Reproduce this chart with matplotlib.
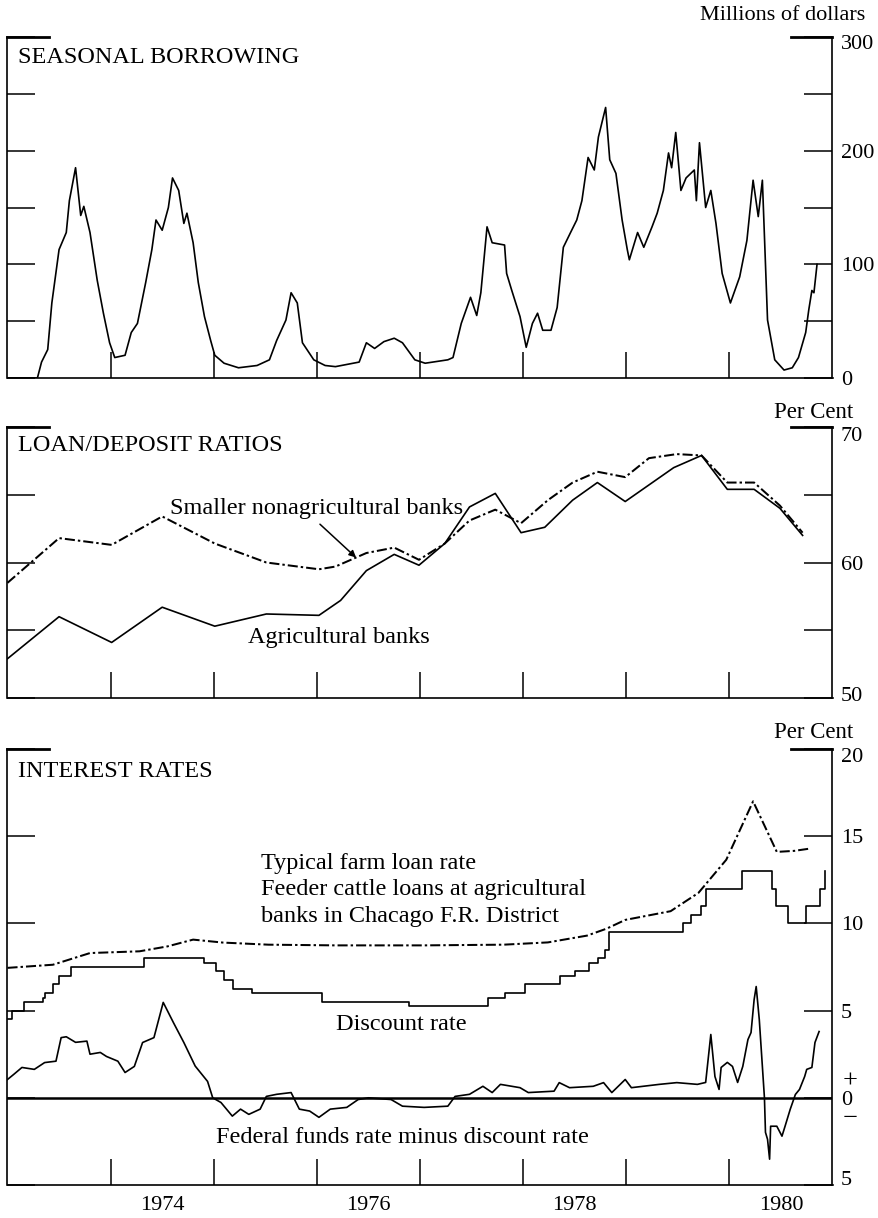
import matplotlib
matplotlib.use("Agg")
import matplotlib.pyplot as plt
import matplotlib.transforms as mtransforms
import numpy as np

plt.rcParams['font.family'] = ['Liberation Serif', 'DejaVu Serif']

# ---------------- Seasonal borrowing (millions of dollars) ----------------
sb_year = [1973.00, 1973.29, 1973.33, 1973.39, 1973.43, 1973.50, 1973.57, 1973.60, 1973.66,
           1973.71, 1973.74, 1973.80, 1973.87, 1973.93, 1973.99, 1974.04, 1974.14, 1974.20,
           1974.26, 1974.34, 1974.40, 1974.44, 1974.50, 1974.56, 1974.60, 1974.66, 1974.71,
           1974.74, 1974.80, 1974.85, 1974.91, 1974.97, 1975.01, 1975.10, 1975.24, 1975.42,
           1975.54, 1975.61, 1975.70, 1975.75, 1975.81, 1975.86, 1975.97, 1976.08, 1976.18,
           1976.41, 1976.48, 1976.56, 1976.65, 1976.75, 1976.83, 1976.95, 1977.05, 1977.27,
           1977.32, 1977.40, 1977.49, 1977.55, 1977.59, 1977.65, 1977.70, 1977.82, 1977.84,
           1977.89, 1977.97, 1978.03, 1978.09, 1978.14, 1978.19, 1978.27, 1978.33, 1978.39,
           1978.46, 1978.52, 1978.57, 1978.63, 1978.69, 1978.73, 1978.80, 1978.84, 1978.90,
           1978.96, 1979.01, 1979.03, 1979.11, 1979.17, 1979.25, 1979.30, 1979.36, 1979.41,
           1979.44, 1979.48, 1979.53, 1979.58, 1979.66, 1979.68, 1979.71, 1979.77, 1979.82,
           1979.87, 1979.93, 1980.01, 1980.10, 1980.17, 1980.23, 1980.28, 1980.32, 1980.37,
           1980.44, 1980.53, 1980.61, 1980.67, 1980.74, 1980.77, 1980.80, 1980.82, 1980.85]
sb_val = [0, 0, 14, 25, 66, 113, 128, 156, 185,
          143, 151, 128, 86, 57, 31, 18, 20, 40,
          48, 84, 113, 139, 130, 150, 176, 165, 136,
          145, 119, 84, 54, 33, 20, 13, 9, 11,
          16, 33, 51, 75, 66, 31, 16, 11, 10,
          14, 31, 26, 32, 35, 31, 16, 13, 16,
          18, 48, 71, 55, 75, 133, 119, 117, 92,
          77, 54, 27, 48, 57, 42, 42, 62, 115,
          128, 139, 156, 194, 183, 212, 238, 192, 180,
          139, 113, 104, 128, 115, 133, 145, 165, 198,
          185, 216, 165, 176, 183, 156, 207, 150, 165,
          136, 92, 66, 89, 121, 174, 142, 174, 51,
          16, 7, 9, 18, 40, 60, 77, 75, 100]

# ---------------- Loan/deposit ratios (per cent) ----------------
ag_year = [1973.00, 1973.50, 1974.01, 1974.50, 1975.01, 1975.51, 1976.02, 1976.23, 1976.48,
           1976.75, 1976.99, 1977.24, 1977.48, 1977.73, 1977.98, 1978.21, 1978.48, 1978.72,
           1978.99, 1979.46, 1979.73, 1979.98, 1980.24, 1980.49, 1980.71]
ag_ratio = [52.9, 56.0, 54.1, 56.7, 55.3, 56.2, 56.1, 57.2, 59.4,
            60.6, 59.8, 61.4, 64.1, 65.1, 62.2, 62.6, 64.6, 65.9,
            64.5, 67.0, 67.9, 65.4, 65.4, 64.0, 62.0]

nonag_year = [1973.00, 1973.50, 1974.01, 1974.50, 1975.01, 1975.51, 1976.02, 1976.18, 1976.48,
              1976.75, 1976.99, 1977.24, 1977.48, 1977.73, 1977.98, 1978.24, 1978.48, 1978.72,
              1978.99, 1979.22, 1979.49, 1979.73, 1979.98, 1980.24, 1980.49, 1980.71]
nonag_ratio = [58.5, 61.8, 61.3, 63.4, 61.4, 60.0, 59.5, 59.7, 60.7,
               61.1, 60.2, 61.4, 63.1, 63.9, 62.9, 64.6, 65.9, 66.7,
               66.3, 67.7, 68.0, 67.9, 65.9, 65.9, 64.2, 62.2]

# ---------------- Interest rates (per cent) ----------------
farm_year = [1973.00, 1973.44, 1973.80, 1974.28, 1974.55, 1974.80, 1975.09, 1975.53, 1976.18,
             1977.04, 1977.81, 1978.24, 1978.62, 1978.81, 1978.99, 1979.43, 1979.70, 1979.97,
             1980.23, 1980.46, 1980.63, 1980.77]
farm_rate = [7.45, 7.63, 8.3, 8.4, 8.68, 9.07, 8.9, 8.78, 8.74,
             8.74, 8.78, 8.91, 9.3, 9.7, 10.2, 10.7, 11.75, 13.65,
             17.0, 14.1, 14.16, 14.28]

disc_year = [1973.00, 1973.04, 1973.16, 1973.34, 1973.36, 1973.44, 1973.50, 1973.62, 1974.32,
             1974.91, 1975.02, 1975.10, 1975.19, 1975.37, 1976.05, 1976.89, 1977.66, 1977.82,
             1978.02, 1978.36, 1978.50, 1978.64, 1978.73, 1978.79, 1978.83, 1979.55, 1979.63,
             1979.72, 1979.77, 1980.12, 1980.41, 1980.45, 1980.57, 1980.74, 1980.88, 1980.93]
disc_rate = [4.5, 5.0, 5.5, 5.75, 6.0, 6.5, 7.0, 7.5, 8.0,
             7.75, 7.25, 6.75, 6.25, 6.0, 5.5, 5.25, 5.75, 6.0,
             6.5, 7.0, 7.25, 7.75, 8.0, 8.5, 9.5, 10.0, 10.5,
             11.0, 12.0, 13.0, 12.0, 11.0, 10.0, 11.0, 12.0, 13.0]

ff_year = [1973.00, 1973.06, 1973.14, 1973.26, 1973.36, 1973.47, 1973.52, 1973.57, 1973.66,
           1973.77, 1973.80, 1973.90, 1973.96, 1974.07, 1974.14, 1974.23, 1974.31, 1974.42,
           1974.51, 1974.61, 1974.71, 1974.82, 1974.94, 1974.99, 1975.07, 1975.18, 1975.26,
           1975.34, 1975.45, 1975.51, 1975.61, 1975.75, 1975.83, 1975.93, 1976.02, 1976.13,
           1976.29, 1976.40, 1976.50, 1976.72, 1976.83, 1977.04, 1977.27, 1977.34, 1977.48,
           1977.61, 1977.70, 1977.78, 1977.97, 1978.05, 1978.30, 1978.35, 1978.45, 1978.68,
           1978.78, 1978.86, 1978.99, 1979.05, 1979.32, 1979.49, 1979.69, 1979.77, 1979.82,
           1979.86, 1979.90, 1979.92, 1979.98, 1980.03, 1980.08, 1980.13, 1980.18, 1980.21,
           1980.24, 1980.26, 1980.29, 1980.32, 1980.34, 1980.35, 1980.37, 1980.39, 1980.40,
           1980.46, 1980.51, 1980.54, 1980.59, 1980.64, 1980.68, 1980.73, 1980.75, 1980.80,
           1980.83, 1980.87]
ff_spread = [1.05, 1.34, 1.74, 1.63, 2.02, 2.1, 3.45, 3.5, 3.18,
             3.25, 2.5, 2.6, 2.37, 2.1, 1.45, 1.8, 3.17, 3.45,
             5.47, 4.3, 3.17, 1.82, 0.94, 0.0, -0.27, -1.05, -0.65,
             -0.95, -0.65, 0.08, 0.2, 0.3, -0.65, -0.76, -1.12, -0.65,
             -0.55, -0.1, 0.0, -0.1, -0.48, -0.55, -0.48, 0.08, 0.2,
             0.66, 0.3, 0.77, 0.58, 0.3, 0.38, 0.87, 0.58, 0.66,
             0.87, 0.3, 1.05, 0.58, 0.77, 0.87, 0.77, 0.88, 3.63,
             1.22, 0.48, 1.74, 2.03, 1.8, 0.88, 1.8, 3.34, 3.74,
             5.63, 6.38, 4.49, 1.8, 0.0, -1.98, -2.38, -3.52, -1.63,
             -1.63, -2.2, -1.63, -0.66, 0.19, 0.48, 1.22, 1.63, 1.74,
             3.17, 3.8]

year_ticks = [1974, 1975, 1976, 1977, 1978, 1979, 1980]
year_labels = ['1974', '1976', '1978', '1980']

FS = 17.5
TICKFS = 16

fig = plt.figure(figsize=(8.79, 12.18), dpi=100)
W, H = 879.0, 1218.0
L, R = 7.5, 832.5


def make_ax(top, bottom):
    return fig.add_axes([L / W, (H - bottom) / H, (R - L) / W, (bottom - top) / H])


ax1 = make_ax(37, 378)
ax2 = make_ax(427, 698)
ax3 = make_ax(749, 1185)


def style(ax, ymin, ymax, yticks, ylabels):
    ax.set_xlim(1973, 1981)
    ax.set_ylim(ymin, ymax)
    ax.spines['top'].set_visible(False)
    for s in ['left', 'right', 'bottom']:
        ax.spines[s].set_linewidth(1.2)
    ax.set_xticks(year_ticks)
    ax.set_xticklabels([])
    ax.tick_params(axis='x', which='major', direction='in', length=19, width=1.1,
                   bottom=True, top=False)
    ax.set_yticks(yticks)
    ax.set_yticklabels(ylabels)
    ax.tick_params(axis='y', which='major', direction='in', length=20, width=1.1,
                   left=True, right=True, labelleft=False, labelright=True,
                   labelsize=TICKFS, pad=6)
    ax.axhline(ymax, xmin=0, xmax=0.05, lw=2.0, color='k', clip_on=False)
    ax.axhline(ymax, xmin=0.95, xmax=1.0, lw=2.0, color='k', clip_on=False)


def shift_label(ax, value, dy_px):
    off = mtransforms.ScaledTranslation(0, -dy_px / 100.0, fig.dpi_scale_trans)
    for loc, tick in zip(ax.get_yticks(), ax.yaxis.get_major_ticks()):
        if abs(loc - value) < 1e-9:
            tick.label2.set_transform(tick.label2.get_transform() + off)


# ---- Panel 1
style(ax1, 0, 300, [0, 50, 100, 150, 200, 250, 300],
      ['0', '', '100', '', '200', '', '300'])
ax1.plot(sb_year, sb_val, color='k', lw=1.2)
ax1.text(0.0127, 0.941, 'SEASONAL BORROWING', transform=ax1.transAxes,
         fontsize=FS, ha='left', va='center')
fig.text(865 / W, 1 - 16 / H, 'Millions of dollars', fontsize=16, ha='right', va='center')
shift_label(ax1, 300, 5)

# ---- Panel 2
style(ax2, 50, 70, [50, 55, 60, 65, 70], ['50', '', '60', '', '70'])
dashdot = (0, (5, 1.5, 1.2, 1.5))
ax2.plot(ag_year, ag_ratio, color='k', lw=1.2)
ax2.plot(nonag_year, nonag_ratio, color='k', lw=1.45, linestyle=dashdot)
ax2.text(0.0127, 0.93, 'LOAN/DEPOSIT RATIOS', transform=ax2.transAxes,
         fontsize=FS, ha='left', va='center')
ax2.text(0.197, 0.701, 'Smaller nonagricultural banks', transform=ax2.transAxes,
         fontsize=FS, ha='left', va='center')
ax2.text(0.291, 0.225, 'Agricultural banks', transform=ax2.transAxes,
         fontsize=FS, ha='left', va='center')
t_arrow = 1976.38
ax2.annotate('', xy=(t_arrow, np.interp(t_arrow, nonag_year, nonag_ratio)),
             xytext=(-26, 24), textcoords='offset points',
             arrowprops=dict(arrowstyle='-|>', color='k', lw=1.1,
                             mutation_scale=10, shrinkA=0, shrinkB=0))
fig.text(853 / W, 1 - 412 / H, 'Per Cent', fontsize=16.5, ha='right', va='center')
shift_label(ax2, 70, 7)
shift_label(ax2, 50, -4)

# ---- Panel 3
style(ax3, -5, 20, [-5, 0, 5, 10, 15, 20], ['5', '0', '5', '10', '15', '20'])
ax3.set_yticks([-1.1, 1.1], minor=True)
ax3.set_yticklabels(['\u2212', '+'], minor=True)
ax3.tick_params(axis='y', which='minor', length=0, left=False, right=True,
                labelleft=False, labelright=True, labelsize=19, pad=7)
ax3.set_xticks([1974.5, 1976.5, 1978.5, 1980.5], minor=True)
ax3.set_xticklabels(year_labels, minor=True)
ax3.tick_params(axis='x', which='minor', length=0, labelsize=TICKFS, pad=8)
ax3.axhline(0, color='k', lw=1.8)
ax3.step(disc_year, disc_rate, where='post', color='k', lw=1.2)
ax3.plot(farm_year, farm_rate, color='k', lw=1.45, linestyle=dashdot)
ax3.plot(ff_year, ff_spread, color='k', lw=1.2)
ax3.text(0.0127, 0.9495, 'INTEREST RATES', transform=ax3.transAxes,
         fontsize=FS, ha='left', va='center')
ax3.text(0.3075, 0.7385, 'Typical farm loan rate', transform=ax3.transAxes,
         fontsize=FS, ha='left', va='center')
ax3.text(0.3075, 0.677, 'Feeder cattle loans at agricultural', transform=ax3.transAxes,
         fontsize=FS, ha='left', va='center')
ax3.text(0.3075, 0.6147, 'banks in Chacago F.R. District', transform=ax3.transAxes,
         fontsize=FS, ha='left', va='center')
ax3.text(0.477, 0.369, 'Discount rate', transform=ax3.transAxes,
         fontsize=FS, ha='center', va='center')
ax3.text(0.479, 0.108, 'Federal funds rate minus discount rate', transform=ax3.transAxes,
         fontsize=FS, ha='center', va='center')
fig.text(853 / W, 1 - 733 / H, 'Per Cent', fontsize=16.5, ha='right', va='center')
shift_label(ax3, 20, 6)
shift_label(ax3, -5, -7)

fig.savefig('out.png', dpi=100, facecolor='white')
